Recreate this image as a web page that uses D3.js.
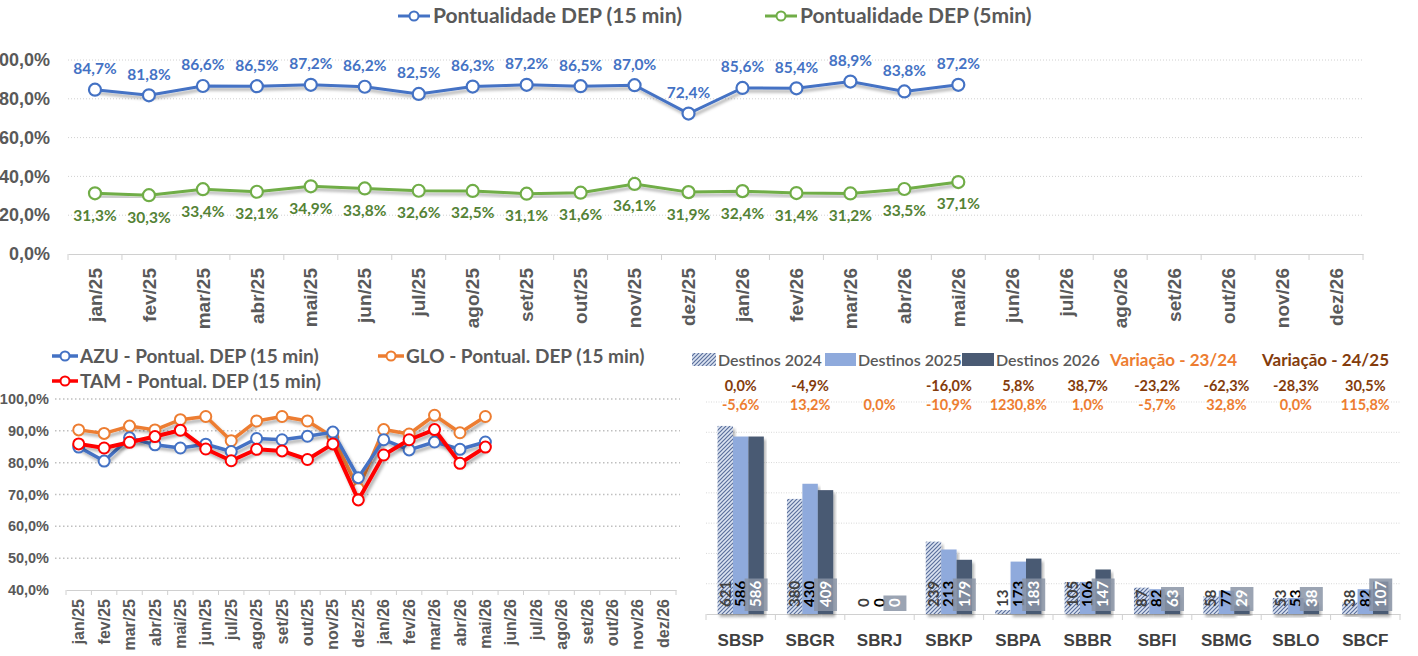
<!DOCTYPE html>
<html>
<head>
<meta charset="utf-8">
<script src="https://cdn.jsdelivr.net/npm/d3@7"></script>
<style>
  body { margin: 0; background: #fff; }
  svg { font-family: Lato, 'Noto Sans', sans-serif; }
</style>
</head>
<body>
<svg id="chart" width="1418" height="656"></svg>
<script>
// Months shared by both line charts
var months = ['jan/25','fev/25','mar/25','abr/25','mai/25','jun/25','jul/25','ago/25','set/25','out/25','nov/25','dez/25',
              'jan/26','fev/26','mar/26','abr/26','mai/26','jun/26','jul/26','ago/26','set/26','out/26','nov/26','dez/26'];

// Top chart: overall punctuality
var pont15 = [84.7, 81.8, 86.6, 86.5, 87.2, 86.2, 82.5, 86.3, 87.2, 86.5, 87.0, 72.4, 85.6, 85.4, 88.9, 83.8, 87.2];
var pont5  = [31.3, 30.3, 33.4, 32.1, 34.9, 33.8, 32.6, 32.5, 31.1, 31.6, 36.1, 31.9, 32.4, 31.4, 31.2, 33.5, 37.1];
var topTicks = [0, 20, 40, 60, 80, 100];

// Bottom-left chart: punctuality per airline
var azu = [84.9, 80.5, 87.8, 85.6, 84.6, 85.8, 83.5, 87.6, 87.2, 88.3, 89.6, 75.3, 87.2, 84.0, 86.5, 84.2, 86.5];
var glo = [90.3, 89.2, 91.5, 90.3, 93.5, 94.5, 86.9, 93.1, 94.5, 93.1, 88.1, 71.8, 90.4, 89.0, 94.9, 89.4, 94.5];
var tam = [85.9, 84.6, 86.4, 88.2, 90.2, 84.3, 80.6, 84.2, 83.7, 81.0, 85.9, 68.3, 82.4, 87.2, 90.4, 79.8, 84.9];
var ciaTicks = [40, 50, 60, 70, 80, 90, 100];

// Bottom-right chart: destinations per airport
var airports = ['SBSP','SBGR','SBRJ','SBKP','SBPA','SBBR','SBFI','SBMG','SBLO','SBCF'];
var dest2024 = [621, 380, 0, 239, 13, 105, 87, 58, 53, 38];
var dest2025 = [586, 430, 0, 213, 173, 106, 82, 77, 53, 82];
var dest2026 = [586, 409, 0, 179, 183, 147, 63, 29, 38, 107];
var var2324 = ['-5,6%', '13,2%', '0,0%', '-10,9%', '1230,8%', '1,0%', '-5,7%', '32,8%', '0,0%', '115,8%'];
var var2425 = ['0,0%', '-4,9%', null, '-16,0%', '5,8%', '38,7%', '-23,2%', '-62,3%', '-28,3%', '30,5%'];
var destTicks = [0, 100, 200, 300, 400, 500, 600, 700];

var fmtPct = d => d.toFixed(1).replace('.', ',') + '%';
var grey = '#595959';

var svg = d3.select('#chart');
var defs = svg.append('defs');
defs.append('filter').attr('id', 'shadow').attr('x', '-20%').attr('y', '-20%').attr('width', '140%').attr('height', '140%')
    .append('feDropShadow').attr('dx', 2).attr('dy', 3).attr('stdDeviation', 1.6)
    .attr('flood-color', '#000').attr('flood-opacity', 0.3);
var hatch = defs.append('pattern').attr('id', 'hatch').attr('patternUnits', 'userSpaceOnUse')
    .attr('width', 4).attr('height', 4);
hatch.append('rect').attr('width', 4).attr('height', 4).attr('fill', '#dce4f2');
hatch.append('path').attr('d', 'M-1,1 l2,-2 M0,4 l4,-4 M3,5 l2,-2')
    .attr('stroke', '#5a6f9c').attr('stroke-width', 1.2);

// helper: legend marker (line with hollow circle)
function legendMarker(g, x, y, w, color, sw) {
    g.append('line').attr('x1', x).attr('x2', x + w).attr('y1', y).attr('y2', y)
        .attr('stroke', color).attr('stroke-width', sw);
    g.append('circle').attr('cx', x + w / 2).attr('cy', y).attr('r', 4.5)
        .attr('fill', '#fff').attr('stroke', color).attr('stroke-width', 2);
}

// ---------------- Top chart ----------------
var topG = svg.append('g');
var x1 = d3.scaleBand().domain(months).range([68, 1363]);
var y1 = d3.scaleLinear().domain([0, 100]).range([254, 60]);

topG.append('g').selectAll('line').data(topTicks.slice(1)).enter().append('line')
    .attr('x1', 68).attr('x2', 1363).attr('y1', d => y1(d)).attr('y2', d => y1(d))
    .attr('stroke', '#d0d0d0').attr('stroke-dasharray', '1,2');

var yAx1 = topG.append('g').attr('transform', 'translate(50,0)')
    .call(d3.axisLeft(y1).tickValues(topTicks).tickFormat(fmtPct).tickSize(0));
yAx1.select('.domain').remove();
yAx1.selectAll('text').attr('x', 0).attr('fill', grey).style('font-size', '18px').style('font-weight', 'bold');

var xAx1 = topG.append('g').attr('transform', 'translate(0,254)')
    .call(d3.axisBottom(x1).tickSize(0).tickPadding(0));
xAx1.select('.domain').attr('stroke', '#d0d0d0');
xAx1.selectAll('text').attr('transform', 'rotate(-90)').attr('x', -14).attr('y', 0).attr('dy', '0.35em')
    .attr('text-anchor', 'end').attr('fill', grey).style('font-size', '19px').style('font-weight', 'bold');
topG.append('g').selectAll('line').data(months.concat(['end'])).enter().append('line')
    .attr('x1', (d, i) => 68 + i * x1.step()).attr('x2', (d, i) => 68 + i * x1.step())
    .attr('y1', 254).attr('y2', 260).attr('stroke', '#d0d0d0');

function drawTopSeries(values, color, labelColor, above) {
    var g = topG.append('g');
    var line = d3.line().x((d, i) => x1(months[i]) + x1.bandwidth() / 2).y(d => y1(d));
    g.append('path').datum(values).attr('d', line).attr('fill', 'none')
        .attr('stroke', color).attr('stroke-width', 3).attr('filter', 'url(#shadow)');
    g.selectAll('circle').data(values).enter().append('circle')
        .attr('cx', (d, i) => x1(months[i]) + x1.bandwidth() / 2).attr('cy', d => y1(d)).attr('r', 6)
        .attr('fill', '#fff').attr('stroke', color).attr('stroke-width', 2.2);
    g.selectAll('text').data(values).enter().append('text')
        .attr('x', (d, i) => x1(months[i]) + x1.bandwidth() / 2).attr('y', d => y1(d) + (above ? -21 : 22))
        .attr('dy', '0.35em').attr('text-anchor', 'middle').attr('fill', labelColor)
        .style('font-size', '15.5px').style('font-weight', 'bold').text(fmtPct);
}
drawTopSeries(pont15, '#4472c4', '#4472c4', true);
drawTopSeries(pont5, '#70ad47', '#548235', false);

var leg1 = svg.append('g');
legendMarker(leg1, 398, 16, 32, '#4472c4', 3);
leg1.append('text').attr('x', 433).attr('y', 16).attr('dy', '0.35em').attr('fill', grey)
    .style('font-size', '21px').style('font-weight', 'bold').text('Pontualidade DEP (15 min)');
legendMarker(leg1, 765, 16, 32, '#70ad47', 3);
leg1.append('text').attr('x', 800).attr('y', 16).attr('dy', '0.35em').attr('fill', grey)
    .style('font-size', '21px').style('font-weight', 'bold').text('Pontualidade DEP (5min)');

// ---------------- Bottom-left chart ----------------
var bl = svg.append('g');
var x2 = d3.scaleBand().domain(months).range([66, 676]);
var y2 = d3.scaleLinear().domain([40, 100]).range([590, 399]);

bl.append('g').selectAll('line').data(ciaTicks.slice(1)).enter().append('line')
    .attr('x1', 55).attr('x2', 680).attr('y1', d => y2(d)).attr('y2', d => y2(d))
    .attr('stroke', '#bfbfbf').attr('stroke-width', 1.5).attr('stroke-dasharray', '1.5,2.5');

var yAx2 = bl.append('g').attr('transform', 'translate(49,0)')
    .call(d3.axisLeft(y2).tickValues(ciaTicks).tickFormat(fmtPct).tickSize(0));
yAx2.select('.domain').remove();
yAx2.selectAll('text').attr('x', 0).attr('fill', grey).style('font-size', '14.5px').style('font-weight', 'bold');

var xAx2 = bl.append('g').attr('transform', 'translate(0,590)')
    .call(d3.axisBottom(x2).tickSize(0).tickPadding(0));
xAx2.select('.domain').attr('stroke', '#d0d0d0');
xAx2.selectAll('text').attr('transform', 'rotate(-90)').attr('x', -9).attr('y', 0).attr('dy', '0.35em')
    .attr('text-anchor', 'end').attr('fill', grey).style('font-size', '16px').style('font-weight', 'bold');
bl.append('g').selectAll('line').data(months.concat(['end'])).enter().append('line')
    .attr('x1', (d, i) => 66 + i * x2.step()).attr('x2', (d, i) => 66 + i * x2.step())
    .attr('y1', 590).attr('y2', 595).attr('stroke', '#d0d0d0');

function drawCia(values, color, sw) {
    var g = bl.append('g');
    var line = d3.line().x((d, i) => x2(months[i]) + x2.bandwidth() / 2).y(d => y2(d));
    g.append('path').datum(values).attr('d', line).attr('fill', 'none')
        .attr('stroke', color).attr('stroke-width', sw).attr('stroke-linejoin', 'round')
        .attr('filter', 'url(#shadow)');
    g.selectAll('circle').data(values).enter().append('circle')
        .attr('cx', (d, i) => x2(months[i]) + x2.bandwidth() / 2).attr('cy', d => y2(d)).attr('r', 5.5)
        .attr('fill', '#fff').attr('stroke', color).attr('stroke-width', 2);
}
drawCia(glo, '#ed7d31', 3.5);
drawCia(azu, '#4472c4', 3.5);
drawCia(tam, '#ff0000', 4);

var leg2 = svg.append('g');
[['AZU - Pontual. DEP (15 min)', '#4472c4', 52, 356],
 ['GLO - Pontual. DEP (15 min)', '#ed7d31', 378, 356],
 ['TAM - Pontual. DEP (15 min)', '#ff0000', 52, 381]].forEach(function(d) {
    legendMarker(leg2, d[2], d[3], 26, d[1], 3.5);
    leg2.append('text').attr('x', d[2] + 28).attr('y', d[3]).attr('dy', '0.35em').attr('fill', grey)
        .style('font-size', '19px').style('font-weight', 'bold').text(d[0]);
});

// ---------------- Bottom-right chart ----------------
var br = svg.append('g');
var years = ['2024', '2025', '2026'];
var xb = d3.scaleBand().domain(airports).range([706, 1400]);
var xs = d3.scaleBand().domain(years).range([0, xb.bandwidth()]).paddingOuter(0.75);
var yb = d3.scaleLinear().domain([0, 700]).range([614, 402]);

br.append('g').selectAll('line').data(destTicks.slice(1)).enter().append('line')
    .attr('x1', 706).attr('x2', 1400).attr('y1', d => yb(d)).attr('y2', d => yb(d))
    .attr('stroke', '#d9d9d9').attr('stroke-dasharray', '1,1.5');

var xAxb = br.append('g').attr('transform', 'translate(0,614)')
    .call(d3.axisBottom(xb).tickSize(0).tickPadding(20));
xAxb.select('.domain').attr('stroke', '#d0d0d0');
xAxb.selectAll('text').attr('fill', '#404040').style('font-size', '17px').style('font-weight', 'bold');
br.append('g').selectAll('line').data(airports.concat(['end'])).enter().append('line')
    .attr('x1', (d, i) => 706 + i * xb.step()).attr('x2', (d, i) => 706 + i * xb.step())
    .attr('y1', 614).attr('y2', 620).attr('stroke', '#d0d0d0');

var series = [
    { year: '2024', values: dest2024, fill: 'url(#hatch)', text: '#404040' },
    { year: '2025', values: dest2025, fill: '#8faadc', text: '#000' },
    { year: '2026', values: dest2026, fill: '#4a5a73', text: '#fff' }
];
series.forEach(function(s) {
    var g = br.append('g');
    g.selectAll('rect').data(s.values).enter().append('rect')
        .attr('x', (d, i) => xb(airports[i]) + xs(s.year)).attr('width', xs.bandwidth())
        .attr('y', d => yb(d)).attr('height', d => yb(0) - yb(d))
        .attr('fill', s.fill).attr('filter', 'url(#shadow)');
});
series.forEach(function(s) {
    var g = br.append('g');
    var lbl = g.selectAll('g').data(s.values).enter().append('g')
        .attr('transform', (d, i) => 'translate(' + (xb(airports[i]) + xs(s.year) + xs.bandwidth() / 2) + ',607) rotate(-90)');
    if (s.year === '2026') {
        lbl.append('rect').attr('x', -4).attr('y', -11.5)
            .attr('width', d => String(d).length * 8.5 + 7).attr('height', 23)
            .attr('fill', '#8a94a6').attr('opacity', 0.85);
    }
    lbl.append('text').attr('x', 0).attr('y', 0).attr('dy', '0.35em').attr('fill', s.text)
        .style('font-size', '15px').style('font-weight', 'bold').text(d => d);
});

br.append('g').selectAll('text').data(var2425).enter().append('text')
    .attr('x', (d, i) => xb(airports[i]) + xb.bandwidth() / 2).attr('y', 386).attr('dy', '0.35em')
    .attr('text-anchor', 'middle').attr('fill', '#843c0c')
    .style('font-size', '14.5px').style('font-weight', 'bold').text(d => d || '');
br.append('g').selectAll('text').data(var2324).enter().append('text')
    .attr('x', (d, i) => xb(airports[i]) + xb.bandwidth() / 2).attr('y', 405).attr('dy', '0.35em')
    .attr('text-anchor', 'middle').attr('fill', '#ed7d31')
    .style('font-size', '14.5px').style('font-weight', 'bold').text(d => d);

var leg3 = svg.append('g');
[['Destinos 2024', 'url(#hatch)', 692, 24], ['Destinos 2025', '#8faadc', 825, 31], ['Destinos 2026', '#4a5a73', 962, 32]]
    .forEach(function(d) {
        leg3.append('rect').attr('x', d[2]).attr('y', 353).attr('width', d[3]).attr('height', 13).attr('fill', d[1]);
        leg3.append('text').attr('x', d[2] + d[3] + 2).attr('y', 360).attr('dy', '0.35em').attr('fill', grey)
            .style('font-size', '16px').style('font-weight', 600).text(d[0]);
    });
leg3.append('text').attr('x', 1110).attr('y', 360).attr('dy', '0.35em').attr('fill', '#ed7d31')
    .style('font-size', '17px').style('font-weight', 'bold').text('Variação - 23/24');
leg3.append('text').attr('x', 1262).attr('y', 360).attr('dy', '0.35em').attr('fill', '#843c0c')
    .style('font-size', '17px').style('font-weight', 'bold').text('Variação - 24/25');
</script>
</body>
</html>
